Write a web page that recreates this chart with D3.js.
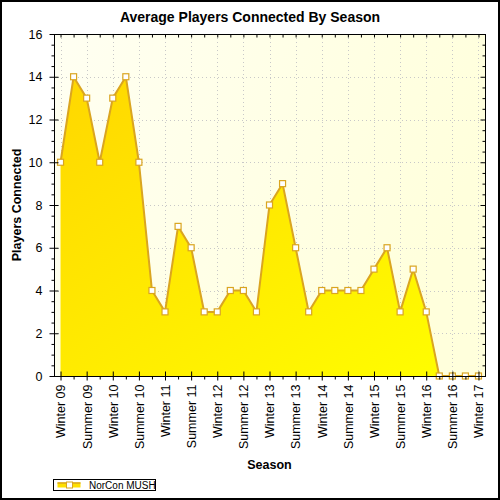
<!DOCTYPE html>
<html>
<head>
<meta charset="utf-8">
<script src="https://cdn.jsdelivr.net/npm/d3@7"></script>
<style>
  body { margin: 0; background: #fff; }
  text { font-family: "Liberation Sans", Arial, sans-serif; }
</style>
</head>
<body>
<div id="chart"></div>
<script>
// Data
const seasons = [
  "Winter 09", "Spring 09", "Summer 09", "Fall 09",
  "Winter 10", "Spring 10", "Summer 10", "Fall 10",
  "Winter 11", "Spring 11", "Summer 11", "Fall 11",
  "Winter 12", "Spring 12", "Summer 12", "Fall 12",
  "Winter 13", "Spring 13", "Summer 13", "Fall 13",
  "Winter 14", "Spring 14", "Summer 14", "Fall 14",
  "Winter 15", "Spring 15", "Summer 15", "Fall 15",
  "Winter 16", "Spring 16", "Summer 16", "Fall 16",
  "Winter 17"
];
const players = [10, 14, 13, 10, 13, 14, 10, 4, 3, 7, 6, 3, 3, 4, 4, 3, 8,
                 9, 6, 3, 4, 4, 4, 4, 5, 6, 3, 5, 3, 0, 0, 0, 0];
const labelledSeasons = seasons.filter(s => s.startsWith("Winter") || s.startsWith("Summer"));
const yTicks = [0, 2, 4, 6, 8, 10, 12, 14, 16];
const seriesName = "NorCon MUSH";

let width = 500, height = 500;
let margin = {top: 34, bottom: 124, left: 54, right: 15};

let svg = d3.select('#chart')
            .append('svg')
            .attr('width', width)
            .attr('height', height);

const defs = svg.append('defs');
const bg = defs.append('linearGradient').attr('id', 'bg')
  .attr('x1', 0).attr('y1', 0).attr('x2', 1).attr('y2', 0.3);
bg.append('stop').attr('offset', '0%').attr('stop-color', '#fffff2');
bg.append('stop').attr('offset', '100%').attr('stop-color', '#ffffdc');

const fill = defs.append('linearGradient').attr('id', 'areaFill')
  .attr('x1', 0).attr('y1', 0).attr('x2', 1).attr('y2', 1);
fill.append('stop').attr('offset', '0%').attr('stop-color', '#ffd700');
fill.append('stop').attr('offset', '100%').attr('stop-color', '#ffff00');

// outer border
svg.append('rect')
   .attr('x', 1).attr('y', 1)
   .attr('width', width - 2).attr('height', height - 2)
   .attr('fill', '#fff')
   .attr('stroke', '#000')
   .attr('stroke-width', 2);

const x0 = margin.left, x1 = width - margin.right;
const y0 = height - margin.bottom, y1 = margin.top;

let xScale = d3.scalePoint()
               .domain(seasons)
               .range([x0, x1])
               .padding(0.5);

let yScale = d3.scaleLinear()
               .domain([0, 16])
               .range([y0, y1]);

// plot background
svg.append('rect')
   .attr('x', x0).attr('y', y1)
   .attr('width', x1 - x0).attr('height', y0 - y1)
   .attr('fill', 'url(#bg)');

// grid
svg.append('g')
   .selectAll('line')
   .data(yTicks.slice(1, -1))
   .enter().append('line')
   .attr('x1', x0).attr('x2', x1)
   .attr('y1', d => Math.round(yScale(d)) + 0.5)
   .attr('y2', d => Math.round(yScale(d)) + 0.5)
   .attr('stroke', '#c8c8c8')
   .attr('stroke-dasharray', '1,3');

svg.append('g')
   .selectAll('line')
   .data(labelledSeasons)
   .enter().append('line')
   .attr('x1', d => Math.round(xScale(d)) + 0.5)
   .attr('x2', d => Math.round(xScale(d)) + 0.5)
   .attr('y1', y1).attr('y2', y0)
   .attr('stroke', '#c8c8c8')
   .attr('stroke-dasharray', '1,3');

// area + line
const pts = seasons.map((s, i) => ({season: s, value: players[i]}));

let area = d3.area()
             .x(d => xScale(d.season))
             .y0(yScale(0))
             .y1(d => yScale(d.value));

let line = d3.line()
             .x(d => xScale(d.season))
             .y(d => yScale(d.value));

svg.append('path')
   .datum(pts)
   .attr('fill', 'url(#areaFill)')
   .attr('d', area);

svg.append('path')
   .datum(pts)
   .attr('fill', 'none')
   .attr('stroke', '#daa520')
   .attr('stroke-width', 2)
   .attr('d', line);

svg.append('g')
   .selectAll('rect')
   .data(pts)
   .enter().append('rect')
   .attr('x', d => xScale(d.season) - 3)
   .attr('y', d => yScale(d.value) - 3)
   .attr('width', 6).attr('height', 6)
   .attr('fill', '#fff')
   .attr('stroke', '#daa520')
   .attr('stroke-width', 1.2);

// frame
svg.append('rect')
   .attr('x', x0 + 0.5).attr('y', y1 + 0.5)
   .attr('width', x1 - x0).attr('height', y0 - y1)
   .attr('fill', 'none')
   .attr('stroke', '#000');

const minorY = d3.range(0, 16.01, 0.5).filter(v => v % 2 !== 0);
const minorX = seasons.filter(s => !labelledSeasons.includes(s));

// left axis
let yAxis = svg.append('g')
  .attr('transform', `translate(${x0 + 0.5},0)`)
  .call(d3.axisLeft(yScale).tickValues(yTicks).tickSizeInner(5).tickSizeOuter(0).tickPadding(7));
yAxis.select('.domain').remove();
yAxis.selectAll('.tick line').attr('x1', 4);
yAxis.selectAll('text').style('font-size', '12.5px').attr('fill', '#000');

svg.append('g')
  .attr('transform', `translate(${x0 + 0.5},0)`)
  .call(d3.axisLeft(yScale).tickValues(minorY).tickSize(3).tickFormat(''))
  .select('.domain').remove();

// right ticks (inward)
svg.append('g')
  .attr('transform', `translate(${x1 + 0.5},0)`)
  .call(d3.axisLeft(yScale).tickValues(yTicks).tickSize(5).tickFormat(''))
  .select('.domain').remove();
svg.append('g')
  .attr('transform', `translate(${x1 + 0.5},0)`)
  .call(d3.axisLeft(yScale).tickValues(minorY).tickSize(3).tickFormat(''))
  .select('.domain').remove();

// bottom axis
let xAxis = svg.append('g')
  .attr('transform', `translate(0,${y0 + 0.5})`)
  .call(d3.axisBottom(xScale).tickValues(labelledSeasons).tickSizeInner(4).tickSizeOuter(0).tickPadding(8));
xAxis.select('.domain').remove();
xAxis.selectAll('.tick line').attr('y1', -5);
xAxis.selectAll('text')
     .style('font-size', '12.5px')
     .attr('fill', '#000')
     .style('text-anchor', 'end')
     .attr('transform', 'rotate(-90)')
     .attr('x', -8)
     .attr('y', 0)
     .attr('dy', '0.35em');

svg.append('g')
  .attr('transform', `translate(0,${y0 + 0.5})`)
  .call(d3.axisBottom(xScale).tickValues(minorX).tickSize(3).tickFormat(''))
  .select('.domain').remove();

// top ticks (inward)
svg.append('g')
  .attr('transform', `translate(0,${y1 + 0.5})`)
  .call(d3.axisTop(xScale).tickSize(-3).tickFormat(''))
  .select('.domain').remove();

// title and axis labels
svg.append('text')
   .attr('x', width / 2)
   .attr('y', 22)
   .attr('text-anchor', 'middle')
   .style('font-size', '14px')
   .style('font-weight', 'bold')
   .text('Average Players Connected By Season');

svg.append('text')
   .attr('x', (x0 + x1) / 2)
   .attr('y', 469)
   .attr('text-anchor', 'middle')
   .style('font-size', '12.5px')
   .style('font-weight', 'bold')
   .text('Season');

svg.append('text')
   .attr('transform', `translate(21,${(y0 + y1) / 2}) rotate(-90)`)
   .attr('text-anchor', 'middle')
   .style('font-size', '12.5px')
   .style('font-weight', 'bold')
   .text('Players Connected');

// legend
const legend = svg.append('g').attr('transform', 'translate(53.5,479.5)');
legend.append('rect')
      .attr('width', 102).attr('height', 11)
      .attr('fill', '#fff')
      .attr('stroke', '#000');
legend.append('rect')
      .attr('x', 4).attr('y', 3)
      .attr('width', 23).attr('height', 5)
      .attr('fill', '#ffe000');
legend.append('line')
      .attr('x1', 4).attr('x2', 27)
      .attr('y1', 3.5).attr('y2', 3.5)
      .attr('stroke', '#daa520')
      .attr('stroke-width', 1.5);
legend.append('rect')
      .attr('x', 13).attr('y', 2.5)
      .attr('width', 6).attr('height', 6)
      .attr('fill', '#fff')
      .attr('stroke', '#daa520');
legend.append('text')
      .attr('x', 35.5).attr('y', 9)
      .style('font-size', '10px')
      .text(seriesName);
</script>
</body>
</html>
